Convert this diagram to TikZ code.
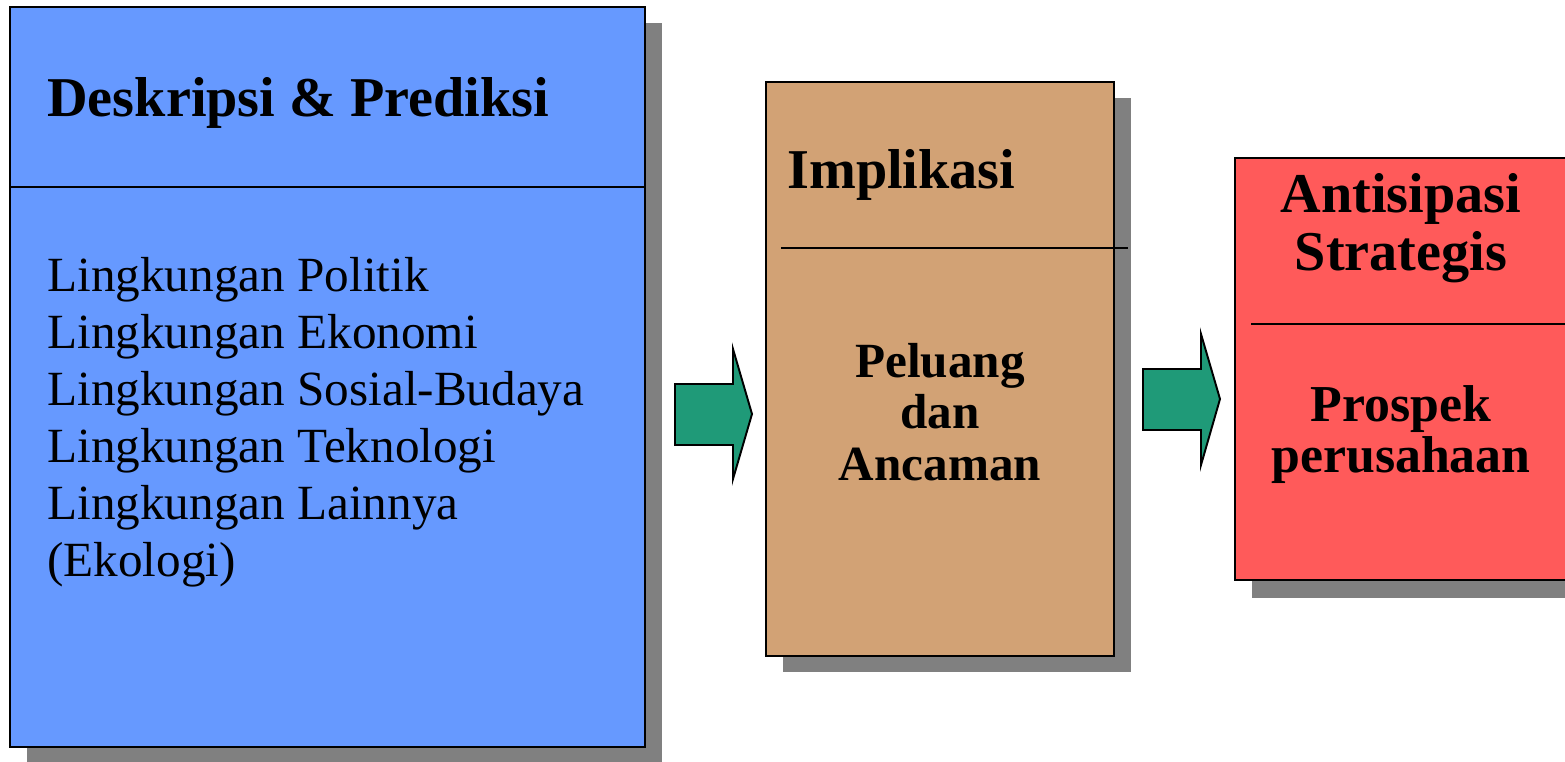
\documentclass[tikz,border=0pt]{standalone}
\usepackage{fontspec}
\setmainfont{Liberation Serif}
\usetikzlibrary{positioning}
\definecolor{boxblue}{HTML}{6699FF}
\definecolor{boxtan}{HTML}{D2A275}
\definecolor{boxred}{HTML}{FF5A5A}
\definecolor{arrowgreen}{HTML}{1F9A78}
\definecolor{shadowgray}{HTML}{808080}
\tikzset{
	panel/.style={draw=black, line width=1.1pt},
	divider/.style={line width=0.9pt},
	blockarrow/.style={fill=arrowgreen, draw=black, line width=1.1pt, line join=miter},
	headtext/.style={font=\bfseries\fontsize{32}{36}\selectfont, inner sep=0pt},
	bodytext/.style={font=\bfseries\fontsize{28}{30}\selectfont, inner sep=0pt},
	listtext/.style={font=\fontsize{28}{32}\selectfont, inner sep=0pt}
}

\begin{document}
\begin{tikzpicture}[x=0.02cm, y=-0.02cm]
			\clip (0,0) rectangle (1565,761);
			\def\dx{17}
			\def\dy{16}
			% shadows
			\fill[shadowgray] (10+\dx,7+\dy) rectangle (645+\dx,747+\dy);
			\fill[shadowgray] (766+\dx,82+\dy) rectangle (1114+\dx,656+\dy);
			\fill[shadowgray] (1235+\dx,158+\dy) rectangle (1600,580+\dy+2);
			% panels
			\draw[panel, fill=boxblue] (10,7) rectangle (645,747);
			\draw[panel, fill=boxtan] (766,82) rectangle (1114,656);
			\draw[panel, fill=boxred] (1235,158) rectangle (1600,580);
			% dividers
			\draw[divider] (10,187) -- (645,187);
			\draw[divider] (781,248) -- (1128,248);
			\draw[divider] (1251,324) -- (1600,324);
			% arrows
			\draw[blockarrow] (675,384) -- (733,384) -- (733,349) -- (752,414)
				-- (733,479) -- (733,445) -- (675,445) -- cycle;
			\draw[blockarrow] (1143,369) -- (1201,369) -- (1201,334) -- (1220,399)
				-- (1201,465) -- (1201,430) -- (1143,430) -- cycle;
			% left panel
			\node[headtext, anchor=base west] (desctitle) at (47,116) {Deskripsi \& Prediksi};
			\foreach \t [count=\i from 0] in {Lingkungan Politik, Lingkungan Ekonomi,
				Lingkungan Sosial-Budaya, Lingkungan Teknologi, Lingkungan Lainnya, (Ekologi)} {
				\node[listtext, anchor=base west] (env\i) at (47,{291+57*\i}) {\t};
			}
			% middle panel
			\node[headtext, anchor=base west] (impltitle) at (787,188) {Implikasi};
			\foreach \t/\yb [count=\i] in {Peluang/377, dan/428, Ancaman/480} {
				\node[bodytext, anchor=base] (impl\i) at (940,\yb) {\t};
			}
			% right panel
			\foreach \t/\yb [count=\i] in {Antisipasi/212, Strategis/270} {
				\node[headtext, anchor=base] (antitle\i) at (1401,\yb) {\t};
			}
			\foreach \t/\yb [count=\i] in {Prospek/421, perusahaan/472} {
				\node[bodytext, font=\bfseries\fontsize{29.5}{31}\selectfont, anchor=base] (prosp\i) at (1401,\yb) {\t};
			}
		\end{tikzpicture}
\end{document}
